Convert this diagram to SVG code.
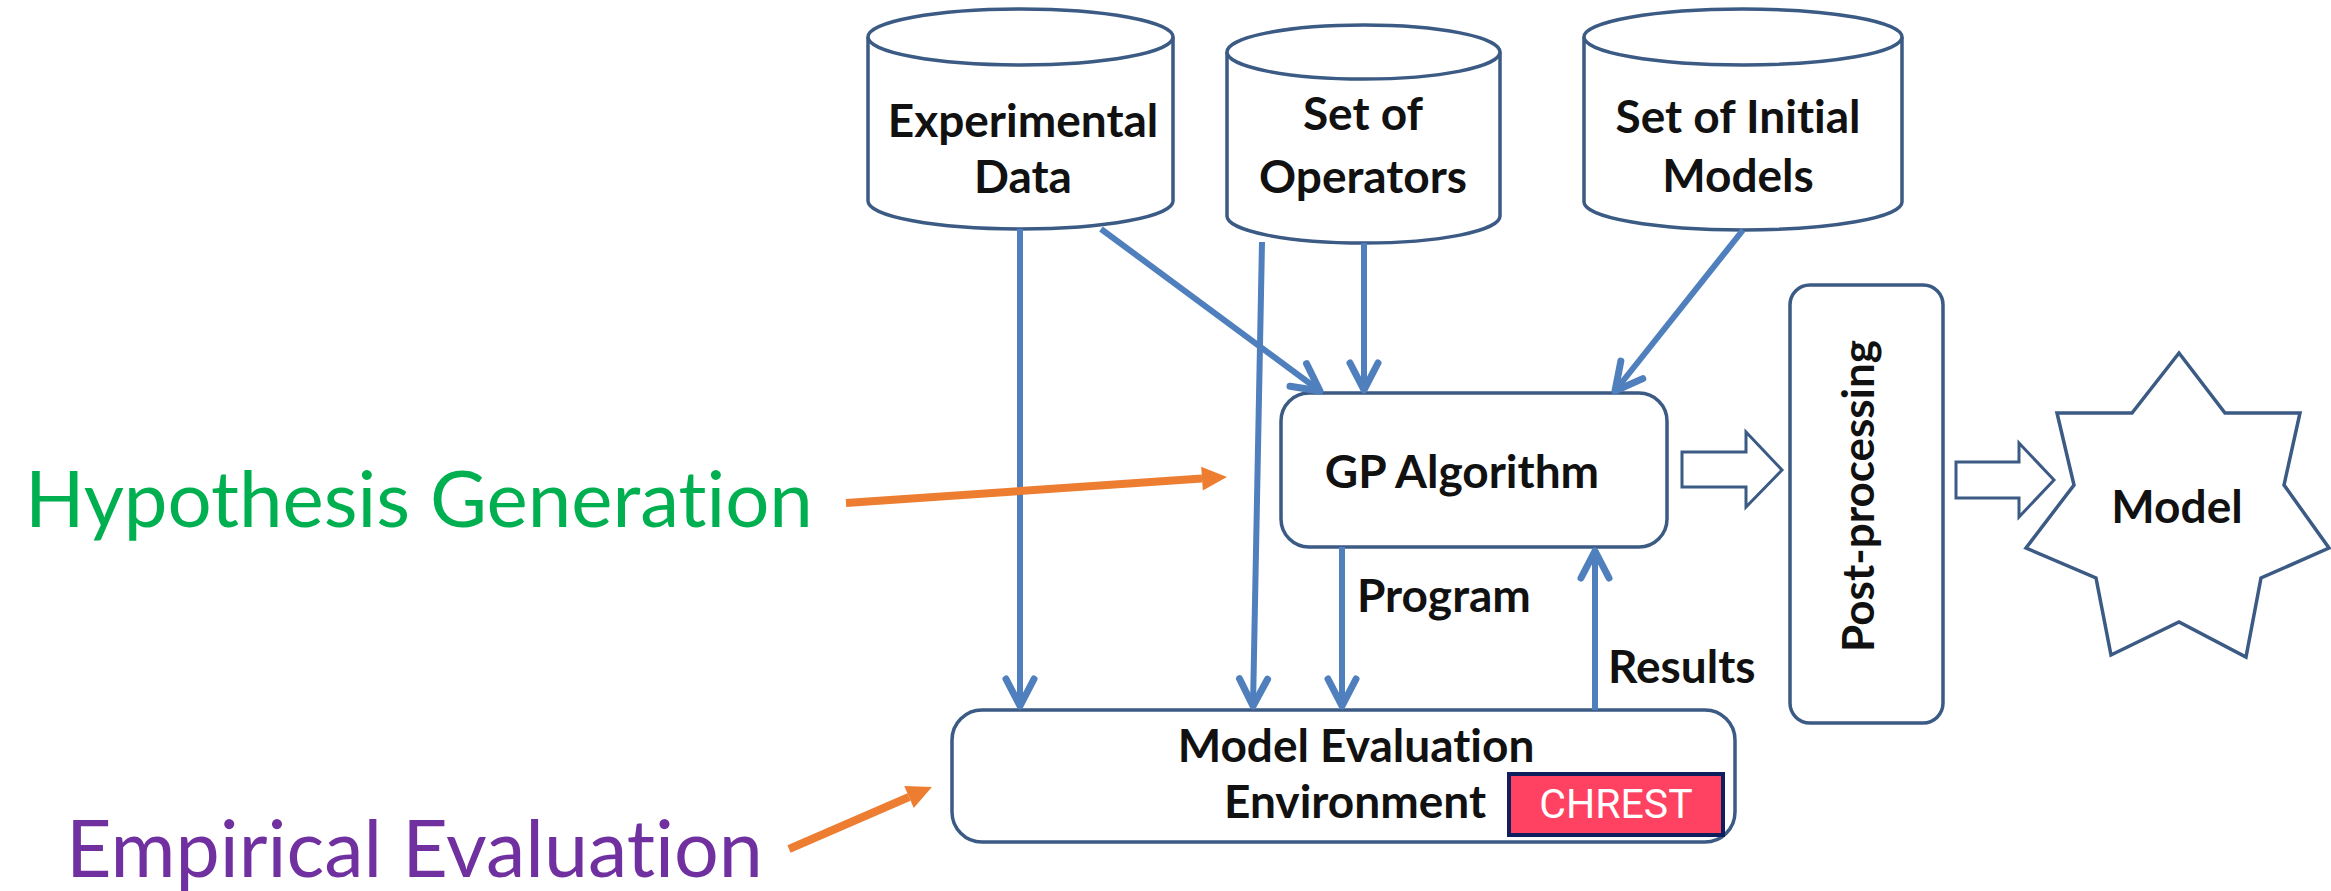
<svg xmlns="http://www.w3.org/2000/svg" width="2331" height="891" viewBox="0 0 2331 891">
  <style>
    text { font-variant-ligatures: none; }
    .shape { fill: #ffffff; stroke: #3b5a84; stroke-width: 3.5; }
    .node-text { font-family: Lato, "Liberation Sans", sans-serif; font-weight: 700; font-size: 46px; fill: #111111; text-anchor: middle; }
    .conn { stroke: #4f7fbd; stroke-width: 6; fill: none; }
    .block { fill: #ffffff; stroke: #3b5a84; stroke-width: 3; stroke-linejoin: miter; }
    .orange { stroke: #ed7d31; stroke-width: 8; fill: none; }
    .phase { font-family: Lato, "Liberation Sans", sans-serif; font-weight: 400; font-size: 78px; }
    .tag-text { font-family: Roboto, "Liberation Sans", sans-serif; font-size: 41px; fill: #ffffff; text-anchor: middle; }
  </style>
  <defs>
    <marker id="vhead" markerUnits="userSpaceOnUse" markerWidth="1" markerHeight="1" orient="auto" overflow="visible">
      <path d="M-27,-14 L0,0 L-27,14" fill="none" stroke="#4f7fbd" stroke-width="7" stroke-linejoin="round" stroke-linecap="round"/>
    </marker>
    <marker id="ohead" markerUnits="userSpaceOnUse" markerWidth="1" markerHeight="1" orient="auto" overflow="visible">
      <path d="M0,-12 L25,0 L0,12 Z" fill="#ed7d31"/>
    </marker>
  </defs>

  <rect width="2331" height="891" fill="#ffffff"/>

  <!-- data stores -->
  <g id="experimental-data">
    <path class="shape" d="M868,37 A152.5,28 0 0 1 1173,37 L1173,201 A152.5,28 0 0 1 868,201 Z"/>
    <path class="shape" d="M868,37 A152.5,28 0 0 0 1173,37"/>
    <text class="node-text" x="1023" y="137">Experimental</text>
    <text class="node-text" x="1023" y="193">Data</text>
  </g>
  <g id="set-of-operators">
    <path class="shape" d="M1227,52 A136.5,27 0 0 1 1500,52 L1500,216 A136.5,27 0 0 1 1227,216 Z"/>
    <path class="shape" d="M1227,52 A136.5,27 0 0 0 1500,52"/>
    <text class="node-text" x="1363" y="130">Set of</text>
    <text class="node-text" x="1363" y="193">Operators</text>
  </g>
  <g id="set-of-initial-models">
    <path class="shape" d="M1584,37 A159,28 0 0 1 1902,37 L1902,202 A159,28 0 0 1 1584,202 Z"/>
    <path class="shape" d="M1584,37 A159,28 0 0 0 1902,37"/>
    <text class="node-text" x="1738" y="133">Set of Initial</text>
    <text class="node-text" x="1738" y="192">Models</text>
  </g>

  <!-- processing nodes -->
  <g id="gp-algorithm">
    <rect class="shape" x="1281" y="393" width="386" height="154" rx="28"/>
    <text class="node-text" x="1462" y="488">GP Algorithm</text>
  </g>
  <g id="model-evaluation">
    <rect class="shape" x="952" y="710" width="783" height="132" rx="30"/>
    <text class="node-text" x="1356" y="762">Model Evaluation</text>
    <text class="node-text" x="1355" y="818">Environment</text>
    <g id="chrest-tag">
      <rect x="1509" y="774" width="214" height="61" fill="#ff4262" stroke="#0f1f5e" stroke-width="4"/>
      <text class="tag-text" x="1616" y="818">CHREST</text>
    </g>
  </g>
  <g id="post-processing">
    <rect class="shape" x="1790" y="285" width="153" height="438" rx="20"/>
    <text class="node-text" transform="translate(1874,496) rotate(-90)" x="0" y="0" style="font-size:44px">Post-processing</text>
  </g>
  <g id="model">
    <polygon class="shape" points="2179,353 2225,413 2300,413 2284,485 2329,548 2261,578 2246,657 2179,622 2111,655 2096,578 2026,548 2074,485 2057,413 2132,413"/>
    <text class="node-text" x="2177" y="523">Model</text>
  </g>

  <!-- phase labels -->
  <g id="hypothesis-generation">
    <text class="phase" x="25" y="527" fill="#00b050">Hypothesis Generation</text>
  </g>
  <g id="empirical-evaluation">
    <text class="phase" x="66" y="877" fill="#7030a0" style="font-size:79px">Empirical Evaluation</text>
  </g>

  <!-- connectors -->
  <g id="connectors">
    <line class="conn" x1="1020" y1="229" x2="1020" y2="706" marker-end="url(#vhead)"/>
    <line class="conn" x1="1101" y1="229" x2="1320" y2="391" marker-end="url(#vhead)"/>
    <line class="conn" x1="1262" y1="242" x2="1253" y2="706" marker-end="url(#vhead)"/>
    <line class="conn" x1="1364" y1="243" x2="1364" y2="390" marker-end="url(#vhead)"/>
    <line class="conn" x1="1743" y1="230" x2="1615" y2="391" marker-end="url(#vhead)"/>
    <line class="conn" x1="1342" y1="547" x2="1342" y2="706" marker-end="url(#vhead)"/>
    <line class="conn" x1="1595" y1="710" x2="1595" y2="551" marker-end="url(#vhead)"/>
    <text class="node-text" x="1357" y="612" style="text-anchor:start">Program</text>
    <text class="node-text" x="1608" y="683" style="text-anchor:start">Results</text>
    <polygon class="block" points="1682,452 1746,452 1746,432 1782,470 1746,507 1746,487 1682,487"/>
    <polygon class="block" points="1956,462 2019,462 2019,443 2054,480 2019,517 2019,498 1956,498"/>
    <line class="orange" x1="846" y1="503" x2="1202" y2="478.6" marker-end="url(#ohead)"/>
    <line class="orange" x1="789" y1="849" x2="909" y2="797" marker-end="url(#ohead)"/>
  </g>
</svg>
